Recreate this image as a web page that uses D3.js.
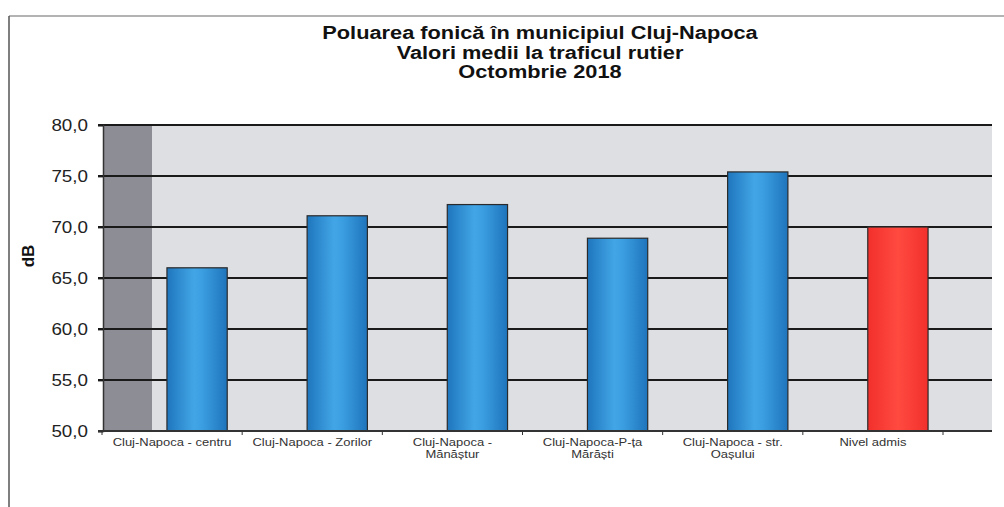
<!DOCTYPE html>
<html>
<head>
<meta charset="utf-8">
<script src="https://cdn.jsdelivr.net/npm/d3@7"></script>
<style>
  body { margin: 0; background: #fff; }
  svg { display: block; font-family: "Liberation Sans", Arial, sans-serif; }
</style>
</head>
<body>
<div id="chart"></div>
<script>
// data
var categories = [
  ["Cluj-Napoca - centru"],
  ["Cluj-Napoca - Zorilor"],
  ["Cluj-Napoca -", "Mănăștur"],
  ["Cluj-Napoca-P-ța", "Mărăști"],
  ["Cluj-Napoca - str.", "Oașului"],
  ["Nivel admis"]
];
var values = [66.0, 71.1, 72.2, 68.9, 75.4, 70.0];
var yTicks = [50, 55, 60, 65, 70, 75, 80];
var titleLines = ["Poluarea fonică în municipiul Cluj-Napoca", "Valori medii la traficul rutier", "Octombrie 2018"];

var W = 1004, H = 507;
var plot = {left: 103, right: 992, top: 125, bottom: 431};
var shift = -25;   // front plane offset for labels / ticks
var stretch = 1.18; // the scan is a bit wider than tall

var svg = d3.select("#chart").append("svg")
    .attr("width", W)
    .attr("height", H);

var defs = svg.append("defs");
var grad = defs.append("linearGradient").attr("id", "blue");
[[0, "#1f76bd"], [0.45, "#42a6e6"], [0.6, "#3a9de0"], [1, "#1f74bb"]].forEach(function(s){
  grad.append("stop").attr("offset", (s[0]*100) + "%").attr("stop-color", s[1]);
});
var gradR = defs.append("linearGradient").attr("id", "red");
[[0, "#f2302c"], [0.5, "#ff4a40"], [1, "#f2302c"]].forEach(function(s){
  gradR.append("stop").attr("offset", (s[0]*100) + "%").attr("stop-color", s[1]);
});

// frame
svg.append("line").attr("x1", 9).attr("x2", 1004).attr("y1", 16).attr("y2", 16)
  .attr("stroke", "#9a9a9a").attr("stroke-width", 1.5);
svg.append("line").attr("x1", 9).attr("x2", 9).attr("y1", 16).attr("y2", H)
  .attr("stroke", "#555").attr("stroke-width", 1.5);

// title
svg.append("g").selectAll("g")
    .data(titleLines)
  .enter().append("g")
    .attr("transform", function(d, i){ return "translate(540," + (39 + i * 19.5) + ") scale(1.21,1)"; })
  .append("text")
    .attr("text-anchor", "middle")
    .style("font-weight", "bold")
    .style("font-size", "18px")
    .style("fill", "#111")
    .text(function(d){ return d; });

var x = d3.scaleBand()
    .domain(d3.range(categories.length))
    .range([127, 968])
    .paddingInner(0.57)
    .paddingOuter(0.285);

var y = d3.scaleLinear()
    .domain([50, 80])
    .range([plot.bottom, plot.top]);

// plot area
svg.append("rect")
    .attr("x", plot.left).attr("y", plot.top)
    .attr("width", plot.right - plot.left).attr("height", plot.bottom - plot.top)
    .attr("fill", "#dedfe3");
svg.append("rect")
    .attr("x", plot.left).attr("y", plot.top)
    .attr("width", 49).attr("height", plot.bottom - plot.top)
    .attr("fill", "#8d8d95");

// gridlines
svg.append("g").selectAll("line")
    .data(yTicks.slice(1))
  .enter().append("line")
    .attr("x1", plot.left - 5).attr("x2", plot.right)
    .attr("y1", function(d){ return y(d); })
    .attr("y2", function(d){ return y(d); })
    .attr("stroke", "#1a1a1a")
    .attr("stroke-width", 1.8);

// y axis
var yAxis = d3.axisLeft(y)
    .tickValues(yTicks)
    .tickSize(5)
    .tickFormat(function(d){ return d3.format(".1f")(d).replace(".", ","); });

var gy = svg.append("g")
    .attr("transform", "translate(" + plot.left + ",0)")
    .call(yAxis);
gy.select(".domain").attr("stroke", "#333").attr("stroke-width", 1.5);
gy.selectAll(".tick line").attr("stroke", "#1a1a1a").attr("stroke-width", 1.8);
gy.selectAll(".tick text")
    .attr("x", 0)
    .attr("transform", "translate(-15,0) scale(1.14,1)")
    .style("font-size", "16.5px")
    .style("font-family", "'Liberation Sans', Arial, sans-serif")
    .style("fill", "#222");

svg.append("text")
    .attr("transform", "translate(34,256) rotate(-90)")
    .attr("text-anchor", "middle")
    .style("font-weight", "bold")
    .style("font-size", "17px")
    .style("fill", "#111")
    .text("dB");

// bars
svg.append("g").selectAll("rect")
    .data(values)
  .enter().append("rect")
    .attr("x", function(d, i){ return x(i); })
    .attr("y", function(d){ return y(d); })
    .attr("width", x.bandwidth())
    .attr("height", function(d){ return y(50) - y(d); })
    .attr("fill", function(d, i){ return i === values.length - 1 ? "url(#red)" : "url(#blue)"; })
    .attr("stroke", "#2a2a2a")
    .attr("stroke-width", 1.2);

// bottom axis
svg.append("line")
    .attr("x1", plot.left - 5).attr("x2", plot.right)
    .attr("y1", plot.bottom).attr("y2", plot.bottom)
    .attr("stroke", "#333").attr("stroke-width", 1.8);

svg.append("g").selectAll("line")
    .data(d3.range(categories.length + 1))
  .enter().append("line")
    .attr("x1", function(i){ return 127 + i * x.step() + shift; })
    .attr("x2", function(i){ return 127 + i * x.step() + shift; })
    .attr("y1", plot.bottom).attr("y2", plot.bottom + 4)
    .attr("stroke", "#333").attr("stroke-width", 1);

// category labels
var lab = svg.append("g").selectAll("g")
    .data(categories)
  .enter().append("g")
    .attr("transform", function(d, i){
      return "translate(" + (x(i) + x.bandwidth() / 2 + shift) + ",446) scale(" + stretch + ",1)";
    })
  .append("text")
    .attr("text-anchor", "middle")
    .style("font-size", "11px")
    .style("fill", "#333");
lab.selectAll("tspan")
    .data(function(d){ return d; })
  .enter().append("tspan")
    .attr("x", 0)
    .attr("dy", function(d, i){ return i ? 12.5 : 0; })
    .text(function(d){ return d; });
</script>
</body>
</html>
